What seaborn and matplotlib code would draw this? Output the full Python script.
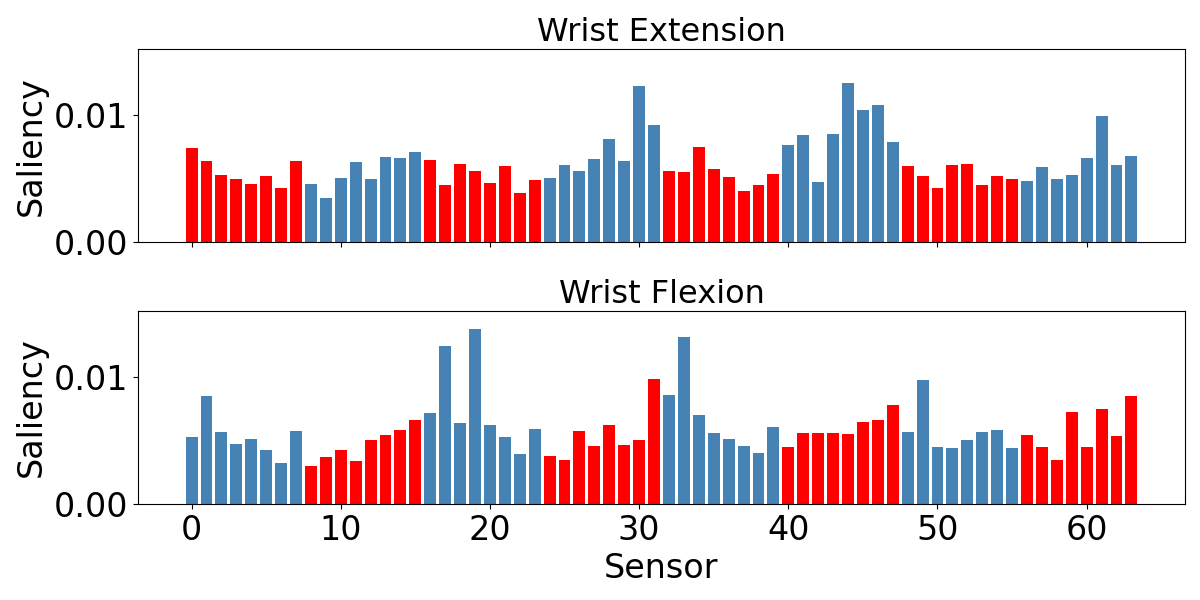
import numpy as np
import pandas as pd
import matplotlib
matplotlib.use("Agg")
import matplotlib.pyplot as plt
from matplotlib.ticker import FormatStrFormatter
import seaborn as sns

sensors = list(range(64))

extension_vals = [
    0.00739, 0.00637, 0.00526, 0.00495, 0.00455, 0.00518, 0.00424, 0.00637,
    0.00455, 0.00345, 0.00503, 0.00629, 0.00495, 0.00668, 0.00661, 0.00708,
    0.00645, 0.00447, 0.00613, 0.00558, 0.00463, 0.00597, 0.00384, 0.00487,
    0.00503, 0.00605, 0.00558, 0.00653, 0.00811, 0.00637, 0.01229, 0.00921,
    0.00558, 0.00550, 0.00747, 0.00574, 0.00511, 0.00400, 0.00447, 0.00534,
    0.00763, 0.00842, 0.00471, 0.00850, 0.01253, 0.01040, 0.01079, 0.00787,
    0.00597, 0.00518, 0.00424, 0.00605, 0.00613, 0.00447, 0.00518, 0.00495,
    0.00479, 0.00589, 0.00495, 0.00526, 0.00661, 0.00992, 0.00605, 0.00676,
]
extension_group = (["red"] * 8 + ["blue"] * 8) * 4

flexion_vals = [
    0.00529, 0.00853, 0.00568, 0.00474, 0.00513, 0.00426, 0.00324, 0.00576,
    0.00300, 0.00371, 0.00426, 0.00339, 0.00505, 0.00545, 0.00584, 0.00663,
    0.00718, 0.01247, 0.00639, 0.01382, 0.00624, 0.00529, 0.00395, 0.00592,
    0.00379, 0.00347, 0.00576, 0.00458, 0.00624, 0.00466, 0.00505, 0.00987,
    0.00860, 0.01318, 0.00703, 0.00561, 0.00513, 0.00458, 0.00403, 0.00608,
    0.00450, 0.00561, 0.00561, 0.00561, 0.00553, 0.00647, 0.00663, 0.00782,
    0.00568, 0.00979, 0.00450, 0.00442, 0.00505, 0.00568, 0.00584, 0.00442,
    0.00545, 0.00450, 0.00347, 0.00726, 0.00450, 0.00750, 0.00537, 0.00853,
]
flexion_group = (["blue"] * 8 + ["red"] * 8) * 4

titles = ["Wrist Extension", "Wrist Flexion"]
palette = {"red": "red", "blue": "steelblue"}

plt.rcParams["font.family"] = ["DejaVu Sans"]

fig, axes = plt.subplots(2, 1, figsize=(12, 6), dpi=100, sharex=True)
fig.subplots_adjust(left=0.115, right=0.9875, top=0.918, bottom=0.16, hspace=0.3575)

ymax = max(max(extension_vals), max(flexion_vals)) * 1.1

for ax, vals, grp, title in zip(axes, [extension_vals, flexion_vals],
                                [extension_group, flexion_group], titles):
    df = pd.DataFrame({"sensor": sensors, "saliency": vals, "group": grp})
    sns.barplot(data=df, x="sensor", y="saliency", hue="group", palette=palette,
                native_scale=True, dodge=False, legend=False, saturation=1,
                width=0.8, ax=ax)
    ax.set_title(title, fontsize=23)
    ax.set_ylabel("Saliency", fontsize=24)
    ax.set_xlabel("")
    ax.set_ylim(0, ymax)
    ax.set_yticks([0, 0.01])
    ax.yaxis.set_major_formatter(FormatStrFormatter("%.2f"))
    ax.tick_params(labelsize=24)

axes[1].set_xlabel("Sensor", fontsize=24)
axes[1].set_xticks([0, 10, 20, 30, 40, 50, 60])
axes[1].set_xlim(-3.59, 66.59)

fig.savefig("out.png", dpi=100)
